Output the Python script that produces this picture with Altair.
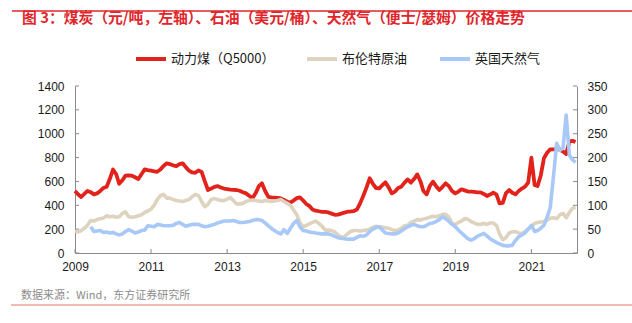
import altair as alt
import pandas as pd

TITLE = "图 3：煤炭（元/吨，左轴）、石油（美元/桶）、天然气（便士/瑟姆）价格走势"
SOURCE = "数据来源：Wind，东方证券研究所"
SERIES = ["动力煤（Q5000）", "布伦特原油", "英国天然气"]
COLORS = ["#E2231C", "#DDD3BE", "#A8C9F8"]

# monthly values, 2009-01 .. 2022-03
coal = [
    520, 490, 470, 495, 520, 510, 492, 500, 520, 545, 556, 620,   # 2009
    700, 660, 580, 610, 648, 650, 648, 635, 620, 660, 701, 695,   # 2010
    690, 685, 681, 700, 730, 752, 745, 735, 729, 745, 752, 720,   # 2011
    690, 675, 672, 692, 680, 600, 528, 540, 555, 561, 550, 540,   # 2012
    536, 532, 530, 528, 522, 510, 500, 480, 458, 500, 560, 584,   # 2013
    520, 470, 467, 465, 462, 458, 445, 430, 422, 440, 460, 467,   # 2014
    440, 410, 395, 365, 355, 350, 345, 345, 340, 330, 320, 322,   # 2015
    330, 338, 346, 348, 352, 365, 416, 480, 550, 626, 580, 545,   # 2016
    542, 570, 592, 550, 500, 515, 545, 556, 590, 617, 590, 620,   # 2017
    659, 600, 520, 492, 560, 598, 560, 528, 555, 584, 560, 520,   # 2018
    500, 515, 534, 525, 515, 514, 512, 508, 508, 495, 478, 490,   # 2019
    506, 490, 416, 420, 500, 528, 505, 492, 520, 540, 556, 590,   # 2020
    799, 570, 561, 650, 794, 840, 869, 869, 869, 869, 850, 830,   # 2021
    935, 940, 930,                                                # 2022
]
brent = [
    46, 44, 47, 52, 58, 68, 67, 70, 72, 73, 78, 76,               # 2009
    77, 75, 76, 83, 86, 76, 75, 76, 78, 80, 85, 88,               # 2010
    92, 100, 112, 120, 123, 115, 115, 112, 110, 109, 108, 110,    # 2011
    112, 118, 123, 120, 108, 97, 102, 112, 114, 112, 110, 110,    # 2012
    113, 116, 110, 103, 103, 104, 108, 110, 111, 110, 109, 108,   # 2013
    110, 109, 108, 109, 110, 112, 108, 104, 100, 90, 80, 64,      # 2014
    55, 58, 61, 64, 67, 62, 56, 48, 48, 47, 44, 38,               # 2015
    33, 34, 40, 45, 47, 47, 46, 47, 48, 50, 54, 56,               # 2016
    55, 54, 53, 52, 49, 47, 48, 52, 57, 58, 64, 67,               # 2017
    70, 69, 71, 73, 75, 77, 76, 78, 81, 81, 75, 62,               # 2018
    60, 64, 67, 72, 71, 66, 63, 60, 60, 62, 60, 63,               # 2019
    63, 58, 40, 28, 32, 42, 44, 45, 42, 41, 45, 50,               # 2020
    55, 62, 64, 65, 66, 69, 73, 74, 72, 80, 83, 74,               # 2021
    85, 94, 96,                                                   # 2022
]
gas = [
    None, None, None, None, None, 55, 45, 46, 47, 43, 44, 42,     # 2009
    43, 40, 38, 40, 45, 49, 46, 42, 44, 47, 48, 57,               # 2010
    56, 55, 60, 59, 57, 57, 57, 58, 62, 64, 60, 56,               # 2011
    58, 60, 60, 60, 57, 55, 56, 58, 60, 63, 65, 67,               # 2012
    67, 67, 68, 66, 64, 64, 65, 66, 68, 70, 70, 68,               # 2013
    63, 57, 52, 47, 43, 40, 49, 41, 52, 62, 68, 55,               # 2014
    47, 46, 44, 43, 42, 41, 40, 40, 40, 38, 35, 32,               # 2015
    31, 30, 29, 29, 29, 33, 36, 35, 38, 45, 50, 53,               # 2016
    55, 48, 42, 41, 40, 40, 42, 46, 51, 55, 58, 60,               # 2017
    57, 55, 55, 58, 62, 63, 66, 70, 76, 72, 66, 60,               # 2018
    55, 48, 42, 36, 30, 27, 30, 35, 38, 41, 36, 30,               # 2019
    26, 22, 19, 16, 15, 15, 16, 26, 34, 38, 42, 50,               # 2020
    58, 45, 47, 52, 58, 75, 95, 160, 230, 215, 220, 289,          # 2021
    205, 195, 190,                                                # 2022
]
left_ticks = [0, 200, 400, 600, 800, 1000, 1200, 1400]
right_ticks = [0, 50, 100, 150, 200, 250, 300, 350]
year_ticks = [2009, 2011, 2013, 2015, 2017, 2019, 2021]

W, H = 502, 167
AX = "#8a8a8a"
TXT = "#1a1a1a"
LATIN = "Liberation Sans"
CJK = "Noto Sans CJK SC"

months = pd.date_range("2009-01-01", periods=len(coal), freq="MS").strftime("%Y/%m/%d")
rows = []
for name, vals in zip(SERIES, [coal, brent, gas]):
    for d, v in zip(months, vals):
        if v is not None:
            rows.append({"date": d, "series": name, "value": v})
df = pd.DataFrame(rows)

x_scale = alt.Scale(domain=[alt.DateTime(year=2009, month=1, date=1),
                            alt.DateTime(year=2022, month=3, date=15)])
x_axis = alt.Axis(values=[alt.DateTime(year=y, month=1, date=1) for y in year_ticks],
                  format="%Y", title=None, labelPadding=8, labelFlush=False)
yl_scale = alt.Scale(domain=[0, 1400], nice=False)
yl_axis = alt.Axis(values=left_ticks, orient="left", title=None, labelPadding=11, format="d")
yr_scale = alt.Scale(domain=[0, 350], nice=False)
yr_axis = alt.Axis(values=right_ticks, orient="right", title=None, labelPadding=10, format="d")

color = alt.Color(
    "series:N",
    scale=alt.Scale(domain=SERIES, range=COLORS),
    legend=alt.Legend(orient="none", legendX=59, legendY=-44, direction="horizontal",
                      title=None, symbolType="stroke", symbolSize=900,
                      symbolStrokeWidth=4, labelFont=CJK, labelFontSize=13,
                      labelColor=TXT, columnPadding=24, labelOffset=3, padding=0),
)

base = alt.Chart(df)
coal_line = base.transform_filter(alt.datum.series == SERIES[0]).mark_line(
    strokeWidth=3.8, strokeJoin="round"
).encode(
    x=alt.X("date:T", scale=x_scale, axis=x_axis),
    y=alt.Y("value:Q", scale=yl_scale, axis=yl_axis),
    color=color,
)
left_tk = alt.Chart(pd.DataFrame({"v": left_ticks})).mark_rule(color=AX).encode(
    y=alt.Y("v:Q", scale=yl_scale, axis=yl_axis), x=alt.value(0), x2=alt.value(4)
)
bottom_tk = alt.Chart(pd.DataFrame({"d": [f"{y}/01/01" for y in year_ticks]})).mark_rule(color=AX).encode(
    x=alt.X("d:T", scale=x_scale, axis=x_axis), y=alt.value(H - 4), y2=alt.value(H)
)
one = pd.DataFrame({"t": [TITLE], "s": [SOURCE]})
title_t = alt.Chart(one).mark_text(align="left", baseline="middle", font=CJK, fontSize=14.8,
                                   fontWeight="bold", color="#E0262B").encode(
    text="t:N", x=alt.value(22 - 75), y=alt.value(19 - 86))
source_t = alt.Chart(one).mark_text(align="left", baseline="middle", font=CJK, fontSize=11,
                                    color="#8c8c8c").encode(
    text="s:N", x=alt.value(21 - 75), y=alt.value(296 - 86))
top_rule = alt.Chart(one).mark_rule(color="#E0262B", strokeWidth=1.5).encode(
    x=alt.value(12 - 75), x2=alt.value(632 - 75), y=alt.value(11 - 86))
bot_rule = alt.Chart(one).mark_rule(color="#E8776B", strokeWidth=1.2).encode(
    x=alt.value(11 - 75), x2=alt.value(632 - 75), y=alt.value(305 - 86))

left = alt.layer(coal_line, left_tk, bottom_tk, title_t, source_t, top_rule, bot_rule)

rl = base.transform_filter(alt.datum.series != SERIES[0]).mark_line(
    strokeWidth=3.6, strokeJoin="round"
).encode(
    x=alt.X("date:T", scale=x_scale, axis=x_axis),
    y=alt.Y("value:Q", scale=yr_scale, axis=yr_axis),
    color=color,
)
right_tk = alt.Chart(pd.DataFrame({"v": right_ticks})).mark_rule(color=AX).encode(
    y=alt.Y("v:Q", scale=yr_scale, axis=yr_axis), x=alt.value(W - 4), x2=alt.value(W)
)
right = alt.layer(rl, right_tk)

chart = alt.layer(left, right).resolve_scale(y="independent").properties(
    width=W, height=H,
    autosize=alt.AutoSizeParams(type="none"),
    padding={"left": 75, "top": 86, "right": 55, "bottom": 70},
).configure_view(stroke=None).configure_axis(
    grid=False, tickSize=0, domainColor=AX, domainWidth=1,
    labelFont=LATIN, labelFontSize=12, labelColor=TXT,
)

chart.save("out.html", embed_options={"renderer": "svg", "actions": False})
